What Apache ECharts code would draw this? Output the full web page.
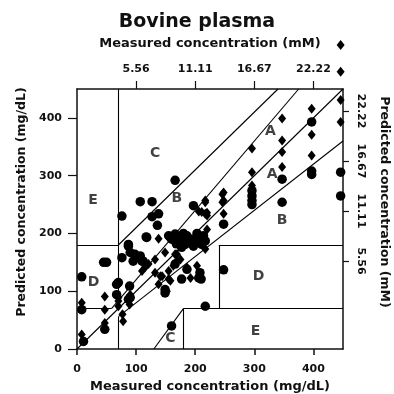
<!DOCTYPE html>
<html>
<head>
<meta charset="utf-8">
<script src="https://cdn.jsdelivr.net/npm/echarts@6/dist/echarts.min.js"></script>
<style>html,body{margin:0;padding:0;background:#fff}#c{width:394px;height:394px}</style>
</head>
<body>
<div id="c"></div>
<script>
// ---- data ----
const titleText = 'Bovine plasma';
const xName = 'Measured concentration (mg/dL)';
const yName = 'Predicted concentration (mg/dL)';
const topName = 'Measured concentration (mM)';
const rightName = 'Predicted concentration (mM)';
const mgTicks = [0, 100, 200, 300, 400];
const mMTickAt = [100, 200, 300, 400];
const mMTickLabels = ['5.56', '11.11', '16.67', '22.22'];

// circles (reference values), [measured, predicted] mg/dL
const circlePts = [
  [166,292],[107,255],[127,255],[76,230],[127,229],[138,234],[136,214],[117,194],[87,181],[197,248],[248,216],[158,193],
  [446,306],[446,265],
  [397,393],[397,308],[397,302],[347,294],[347,254],[296,274],[296,265],[296,257],[296,250],
  [155,196],[166,199],[175,193],[186,196],[194,190],[206,193],[214,196],[183,181],[197,178],[211,181],[217,187],[177,176],
  [160,190],[170,186],[190,186],[200,186],[180,200],[203,200],[188,190],[168,182],
  [90,167],[98,164],[104,158],[110,152],[95,152],[76,158],[107,161],[112,152],[87,178],[118,193],
  [166,147],[186,138],[208,132],[210,121],[206,123],[177,121],[149,103],[149,97],[248,137],[50,150],[45,150],[70,115],[90,89],
  [8,125],[8,68],[11,13],[47,34],[67,112],[67,94],[87,86],[89,109],[217,74],[160,40]
];
// diamonds (test values), [measured, predicted] mg/dL
const diamondPts = [
  [347,399],[397,416],[397,371],[347,361],[347,341],[296,347],[347,315],[397,335],[296,306],[296,283],
  [248,271],[248,257],[248,234],[217,257],[220,236],[217,254],[206,238],[217,234],[246,268],[246,254],
  [446,431],[446,393],[446,480],[446,526],[211,237],[220,231],[138,191],
  [220,207],[217,173],[132,155],[121,147],[115,141],[110,135],[149,167],[166,164],[175,155],[163,144],[169,152],
  [155,135],[144,126],[132,132],[192,123],[158,118],[186,141],[203,144],[141,126],[138,112],[155,121],
  [8,80],[8,25],[47,91],[47,68],[47,45],[70,89],[70,83],[70,74],[89,77],[90,94],[77,60],[78,48],[152,100],[169,164]
];
// Clarke error-grid zone boundaries (segments, mg/dL)
const zoneSegments = [
  [[0,0],[450,450]],
  [[0,70],[58.33,70]], [[58.33,70],[375,450]],
  [[70,56],[450,360]],
  [[70,84],[70,450]], [[70,0],[70,56]],
  [[0,180],[70,180]], [[70,180],[340,450]],
  [[130,0],[180,70]],
  [[180,0],[180,70]], [[180,70],[450,70]],
  [[240,70],[240,180]], [[240,180],[450,180]]
];
const zoneLabels = [
  ['C',132,338],['E',27,257],['B',169,260],['A',327,376],['A',330,303],['B',347,223],
  ['D',28,115],['D',307,126],['E',302,31],['C',158,19]
];

// ---- chart ----
const font = 'DejaVu Sans, Liberation Sans, Arial, sans-serif';
const chart = echarts.init(document.getElementById('c'), null, {renderer: 'canvas'});
const mmFmt = v => { const i = mMTickAt.indexOf(v); return i >= 0 ? mMTickLabels[i] : ''; };
const axisLine = {show: true, onZero: false, lineStyle: {color: '#111', width: 1.5}};
const lbl = {color: '#111', fontFamily: font, fontWeight: 'bold', fontSize: 11};
const nameStyle = {color: '#111', fontFamily: font, fontWeight: 'bold', fontSize: 13};
const sideNameStyle = {color: '#111', fontFamily: font, fontWeight: 'bold', fontSize: 12.5};

chart.setOption({
  animation: false,
  title: {text: titleText, left: 'center', top: 8, textStyle: {color: '#111', fontFamily: font, fontWeight: 'bold', fontSize: 19}},
  grid: {left: 77, top: 89, right: 51, bottom: 45, containLabel: false, outerBoundsMode: 'none'},
  xAxis: [
    {type: 'value', position: 'bottom', min: 0, max: 450, interval: 100,
     axisLine, splitLine: {show: false},
     axisTick: {show: true, length: 6, customValues: mgTicks, lineStyle: {color: '#111', width: 1.5}},
     axisLabel: Object.assign({margin: 15, customValues: mgTicks, formatter: v => String(v)}, lbl),
     name: xName, nameLocation: 'middle', nameGap: 29, nameTextStyle: nameStyle},
    {type: 'value', position: 'top', min: 0, max: 450,
     axisLine, splitLine: {show: false},
     axisTick: {show: true, length: 8, customValues: mMTickAt, lineStyle: {color: '#111', width: 1.2}},
     axisLabel: Object.assign({margin: 14, customValues: mMTickAt, formatter: mmFmt}, lbl),
     name: topName, nameLocation: 'middle', nameGap: 39, nameTextStyle: nameStyle}
  ],
  yAxis: [
    {type: 'value', position: 'left', min: 0, max: 450, interval: 100,
     axisLine, splitLine: {show: false},
     axisTick: {show: true, length: 9, customValues: mgTicks, lineStyle: {color: '#111', width: 1.2}},
     axisLabel: Object.assign({margin: 15, customValues: mgTicks, formatter: v => String(v)}, lbl),
     name: yName, nameLocation: 'middle', nameGap: 38, nameRotate: 90,
     nameTextStyle: Object.assign({padding: [0, 0, 0, 34]}, sideNameStyle)},
    {type: 'value', position: 'right', min: -76, max: 444,
     axisLine, splitLine: {show: false},
     axisTick: {show: true, length: 6, customValues: mMTickAt, lineStyle: {color: '#111', width: 1.2}},
     axisLabel: Object.assign({margin: 12, rotate: -90, customValues: mMTickAt, formatter: mmFmt}, lbl),
     name: rightName, nameLocation: 'middle', nameGap: 35, nameRotate: -90,
     nameTextStyle: Object.assign({padding: [0, 34, 0, 0]}, sideNameStyle)}
  ],
  series: [
    {type: 'lines', coordinateSystem: 'cartesian2d', xAxisIndex: 0, yAxisIndex: 0, silent: true,
     lineStyle: {color: '#000', width: 1.1, opacity: 1},
     data: zoneSegments.map(s => ({coords: s}))},
    {type: 'scatter', xAxisIndex: 0, yAxisIndex: 0, clip: false, symbol: 'circle', symbolSize: 9.5,
     itemStyle: {color: '#000', opacity: 1}, data: circlePts},
    {type: 'scatter', xAxisIndex: 0, yAxisIndex: 0, clip: false, symbol: 'diamond', symbolSize: [8, 10],
     itemStyle: {color: '#000', opacity: 1}, data: diamondPts},
    {type: 'scatter', xAxisIndex: 0, yAxisIndex: 0, symbolSize: 0, silent: true,
     label: {show: true, position: 'inside', formatter: p => p.data[2], color: '#111', fontFamily: font, fontWeight: 'bold', fontSize: 14},
     data: zoneLabels.map(z => [z[1], z[2], z[0]])}
  ]
});
</script>
</body>
</html>
